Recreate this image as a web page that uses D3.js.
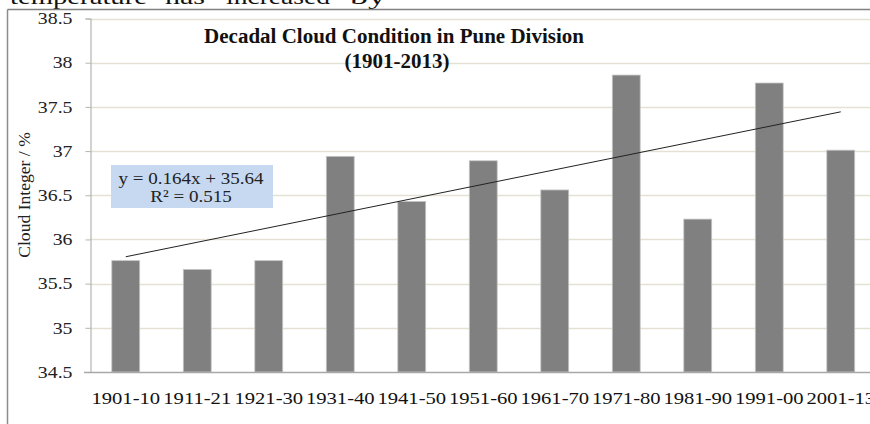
<!DOCTYPE html>
<html>
<head>
<meta charset="utf-8">
<script src="https://cdn.jsdelivr.net/npm/d3@7"></script>
<style>
  body { margin: 0; background: #fff; }
  svg { display: block; font-family: "Liberation Serif", "Times New Roman", serif; }
</style>
</head>
<body>
<svg class="chart" width="870" height="424"></svg>
<script>
// DATA
var decades = ["1901-10","1911-21","1921-30","1931-40","1941-50","1951-60",
               "1961-70","1971-80","1981-90","1991-00","2001-13"];
var cloud = [35.76, 35.66, 35.76, 36.94, 36.43, 36.89, 36.56, 37.86, 36.23, 37.77, 37.01];
var yTicks = [34.5, 35, 35.5, 36, 36.5, 37, 37.5, 38, 38.5];
var trendSlope = 0.164, trendIntercept = 35.64, trendR2 = 0.515;
var pageWords = ["temperature", "has", "increased", "by"];

// GEOMETRY
var gwidth = 870, gheight = 424;
var plot = {left: 90, right: 876.5, top: 18.5, bottom: 372};
var stretch = 1.25; // text in the picture is wider than the plain font

var svg = d3.select(".chart");

// stretch a text horizontally, keeping its anchor
var widen = function(sel, f) {
  sel.each(function() {
    var w = this.getComputedTextLength();
    d3.select(this).attr("textLength", w * f).attr("lengthAdjust", "spacingAndGlyphs");
  });
};

// page text cut off at the top (justified words)
var wordX = [10, 165, 226, 350];
var wordW = [137, 40, 104, 36];
svg.append("g").selectAll("text")
  .data(pageWords)
  .enter().append("text")
  .attr("x", function(d, i){ return wordX[i]; })
  .attr("y", 4)
  .style("font-size", "21px")
  .attr("fill", "#111")
  .attr("textLength", function(d, i){ return wordW[i]; })
  .attr("lengthAdjust", "spacingAndGlyphs")
  .text(function(d){ return d; });

// outer frame (top and left borders visible)
svg.append("line").attr("x1", 7.5).attr("x2", gwidth).attr("y1", 9.5).attr("y2", 9.5)
  .attr("stroke", "#808080").attr("stroke-width", 1.5);
svg.append("line").attr("x1", 7.5).attr("x2", 7.5).attr("y1", 9.5).attr("y2", gheight)
  .attr("stroke", "#8c8c8c").attr("stroke-width", 1.5);

// scales
var x = d3.scaleBand()
  .domain(decades)
  .range([plot.left, plot.right])
  .paddingInner(0.61)
  .paddingOuter(0.305);
var y = d3.scaleLinear()
  .domain([34.5, 38.5])
  .range([plot.bottom, plot.top]);

// gridlines
svg.append("g")
  .selectAll("line")
  .data(yTicks.filter(function(d){ return d > 34.5; }))
  .enter().append("line")
  .attr("x1", plot.left).attr("x2", plot.right)
  .attr("y1", function(d){ return Math.round(y(d)) + 0.5; })
  .attr("y2", function(d){ return Math.round(y(d)) + 0.5; })
  .attr("stroke", "#e4e1d4").attr("stroke-width", 1.3);

// bars
svg.append("g")
  .selectAll("rect")
  .data(cloud)
  .enter().append("rect")
  .attr("x", function(d, i){ return x(decades[i]); })
  .attr("y", function(d){ return y(d); })
  .attr("width", x.bandwidth())
  .attr("height", function(d){ return y(34.5) - y(d); })
  .attr("fill", "#808080")
  .attr("stroke", "#c4c4c4")
  .attr("stroke-width", 0.8);

// y axis
var yAxis = d3.axisLeft(y).tickValues(yTicks).tickSize(5).tickPadding(13)
  .tickFormat(function(d){ return String(d); });
var ya = svg.append("g")
  .attr("transform", "translate(" + (plot.left + 0.5) + ",0)")
  .call(yAxis);
ya.select(".domain").attr("stroke", "#b4b4b4").attr("stroke-width", 1.2);
ya.selectAll(".tick line").attr("stroke", "#b4b4b4");
ya.selectAll(".tick text")
  .style("font-family", "Liberation Serif, serif")
  .style("font-size", "16.5px")
  .attr("fill", "#222");
widen(ya.selectAll(".tick text"), 1.2);

// x axis
var xAxis = d3.axisBottom(x).tickSize(0).tickPadding(20);
var xa = svg.append("g")
  .attr("transform", "translate(0," + (plot.bottom + 0.5) + ")")
  .call(xAxis);
xa.select(".domain").attr("stroke", "#a8a8a8").attr("stroke-width", 1.3)
  .attr("d", "M" + (plot.left - 6) + ",0H" + plot.right);
xa.selectAll(".tick text")
  .style("font-family", "Liberation Serif, serif")
  .style("font-size", "16.5px")
  .attr("fill", "#111");
widen(xa.selectAll(".tick text"), stretch);

// trend line
var xi = function(i){ return x(decades[i]) + x.bandwidth() / 2; };
var last = decades.length - 1;
svg.append("line")
  .attr("x1", xi(0)).attr("y1", y(trendIntercept + trendSlope * 1))
  .attr("x2", xi(last)).attr("y2", y(trendIntercept + trendSlope * (last + 1)))
  .attr("stroke", "#222").attr("stroke-width", 1);

// equation box
var eq = svg.append("g");
eq.append("rect")
  .attr("x", 111).attr("y", 165).attr("width", 162).attr("height", 43)
  .attr("fill", "#c6d9f1");
var eq1 = eq.append("text")
  .attr("x", 191).attr("y", 184)
  .attr("text-anchor", "middle")
  .style("font-size", "17px").attr("fill", "#222")
  .text("y = " + trendSlope + "x + " + trendIntercept);
var eq2 = eq.append("text")
  .attr("x", 191).attr("y", 202)
  .attr("text-anchor", "middle")
  .style("font-size", "17px").attr("fill", "#222")
  .text("R\u00b2 = " + trendR2);
widen(eq1, 1.12);
widen(eq2, 1.12);

// y label
var yl = svg.append("text")
  .attr("transform", "translate(30,195) rotate(-90)")
  .attr("text-anchor", "middle")
  .style("font-size", "16px").attr("fill", "#222")
  .text("Cloud Integer / %");
widen(yl, 1.1);

// title
var t1 = svg.append("text")
  .attr("x", 394).attr("y", 43)
  .attr("text-anchor", "middle")
  .style("font-size", "20px").style("font-weight", "bold").attr("fill", "#111")
  .text("Decadal Cloud Condition in Pune Division");
var t2 = svg.append("text")
  .attr("x", 397).attr("y", 68)
  .attr("text-anchor", "middle")
  .style("font-size", "20px").style("font-weight", "bold").attr("fill", "#111")
  .text("(1901-2013)");
widen(t1, 1.05);
widen(t2, 1.05);
</script>
</body>
</html>
